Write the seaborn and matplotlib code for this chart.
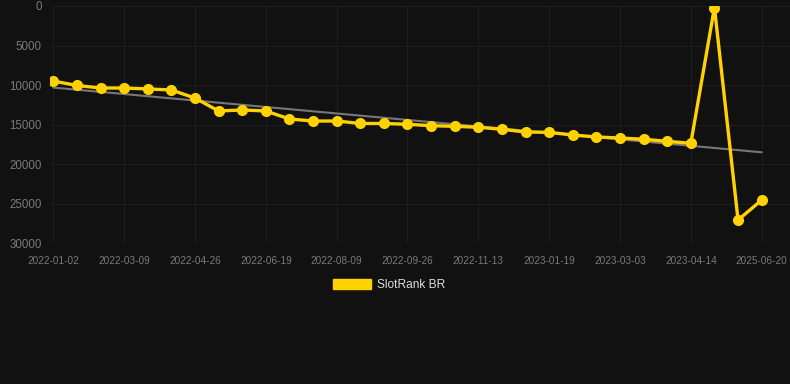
import numpy as np
import pandas as pd
import matplotlib
matplotlib.use("Agg")
import matplotlib.pyplot as plt
import seaborn as sns

# ---- data ----
rank_values = [9500, 10060, 10380, 10380, 10500, 10630, 11650, 13290, 13160, 13290,
               14300, 14560, 14560, 14870, 14870, 14970, 15150, 15230, 15350, 15600,
               15950, 15990, 16330, 16580, 16710, 16870, 17130, 17380, 190, 27090, 24560]
tick_labels = ["2022-01-02", "2022-03-09", "2022-04-26", "2022-06-19", "2022-08-09",
               "2022-09-26", "2022-11-13", "2023-01-19", "2023-03-03", "2023-04-14",
               "2025-06-20"]
series_name = "SlotRank BR"

idx = np.arange(len(rank_values))
df = pd.DataFrame({"i": idx, "rank": rank_values})

# linear trend from data
coef = np.polyfit(idx, rank_values, 1)
trend = np.polyval(coef, idx)

sns.set_theme(style="dark")
plt.rcParams['font.family'] = ['Liberation Sans', 'DejaVu Sans']

bg = "#111111"
fig = plt.figure(figsize=(7.9, 3.84), dpi=100, facecolor=bg)
ax = fig.add_axes([50/790, 141/384, 740/790, 378/384 - 141/384])
ax.set_facecolor(bg)

gold = "#FFD200"
ax.plot(idx, trend, color="#777777", lw=1.5, zorder=2)
sns.lineplot(data=df, x="i", y="rank", ax=ax, color=gold, lw=2.4,
             marker="o", markersize=8, markeredgewidth=0, zorder=3, label=series_name)

ax.set_ylim(30000, 0)
ax.set_xlim(-0.14, 31.2)
ax.set_yticks([0, 5000, 10000, 15000, 20000, 25000, 30000])
ax.set_xticks(idx[::3])
ax.set_xticklabels(tick_labels)
ax.tick_params(axis="y", colors="#7a7a7a", labelsize=8.3, length=0, pad=6)
ax.tick_params(axis="x", colors="#7a7a7a", labelsize=7.2, length=0, pad=9)
ax.grid(True, color="#1d1d1d", lw=0.8)
ax.set_xlabel("")
ax.set_ylabel("")
for s in ax.spines.values():
    s.set_visible(False)
ax.axhline(30000, color="#262626", lw=1)

handles = [matplotlib.patches.Patch(color=gold)]
leg = ax.legend(handles, [series_name], loc="upper center", bbox_to_anchor=(0.458, -0.105),
                frameon=False, fontsize=8.6, handlelength=3.2, handleheight=1.0,
                handletextpad=0.5, labelcolor="#dddddd")

fig.savefig("out.png", dpi=100, facecolor=bg)
